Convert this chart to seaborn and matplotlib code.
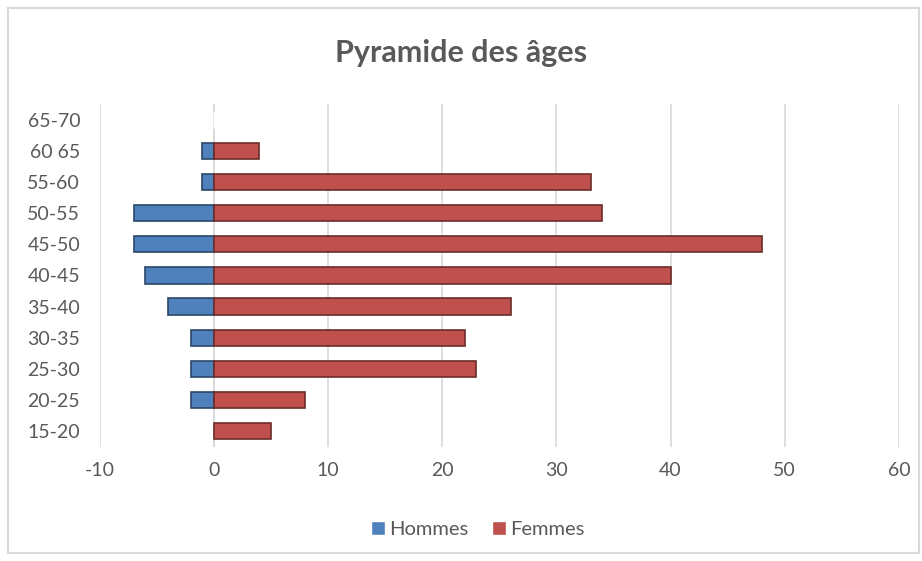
import pandas as pd
import matplotlib.pyplot as plt
import seaborn as sns
from matplotlib.patches import Rectangle

ages = ["15-20", "20-25", "25-30", "30-35", "35-40", "40-45",
        "45-50", "50-55", "55-60", "60 65", "65-70"]
hommes = [0, -2, -2, -2, -4, -6, -7, -7, -1, -1, 0]
femmes = [5, 8, 23, 22, 26, 40, 48, 34, 33, 4, 0]
ticks = [-10, 0, 10, 20, 30, 40, 50, 60]

BLUE = "#4F81BD"
RED = "#C0504D"
TXT = "#595959"


def build_frame():
    df = pd.DataFrame({"age": ages * 2,
                       "val": hommes + femmes,
                       "sexe": ["Hommes"] * len(ages) + ["Femmes"] * len(ages)})
    return df


def plot_pyramid(df):
    sns.set_style("white")
    plt.rcParams["font.family"] = ["Lato", "DejaVu Sans"]
    fig = plt.figure(figsize=(9.22, 5.61), dpi=100)
    ax = fig.add_axes([0.108, 0.204, 0.867, 0.610])

    sns.barplot(data=df, y="age", x="val", hue="sexe", order=ages[::-1],
                hue_order=["Hommes", "Femmes"], palette=[BLUE, RED],
                saturation=1, dodge=False, width=0.52, orient="h", ax=ax,
                legend=True)

    # bevel-like edges
    for bar in ax.patches:
        if bar.get_width() == 0:
            continue
        c = bar.get_facecolor()
        dark = tuple(v * 0.55 for v in c[:3])
        bar.set_edgecolor(dark)
        bar.set_linewidth(1.2)

    ax.set_xlim(-10, 60)
    ax.set_xticks(ticks)
    ax.set_xticklabels([str(t) for t in ticks], color=TXT, fontsize=14)
    ax.tick_params(axis="y", labelsize=14, labelcolor=TXT, length=0, pad=14)
    ax.tick_params(axis="x", length=0, pad=11)
    ax.set_xlabel("")
    ax.set_ylabel("")
    ax.xaxis.grid(True, color="#D9D9D9", linewidth=1.2)
    ax.set_axisbelow(True)
    for s in ax.spines.values():
        s.set_visible(False)
    ax.axvline(0, color="#D9D9D9", linewidth=1.2, zorder=0.5)

    ax.legend(loc="upper center", bbox_to_anchor=(0.473, -0.165), ncol=2,
              frameon=False, fontsize=14.5, handlelength=0.7, handleheight=0.7,
              handletextpad=0.2, columnspacing=1.2, labelcolor=TXT)

    fig.text(0.5, 0.905, "Pyramide des âges", ha="center", va="center",
             fontsize=22, fontweight="bold", color=TXT)

    fig.patches.append(Rectangle((0.009, 0.014), 0.988, 0.972, fill=False,
                                 edgecolor="#D9D9D9", linewidth=1.5,
                                 transform=fig.transFigure, figure=fig))
    fig.savefig("out.png", dpi=100)
    plt.close(fig)


if __name__ == "__main__":
    df = build_frame()
    plot_pyramid(df)
